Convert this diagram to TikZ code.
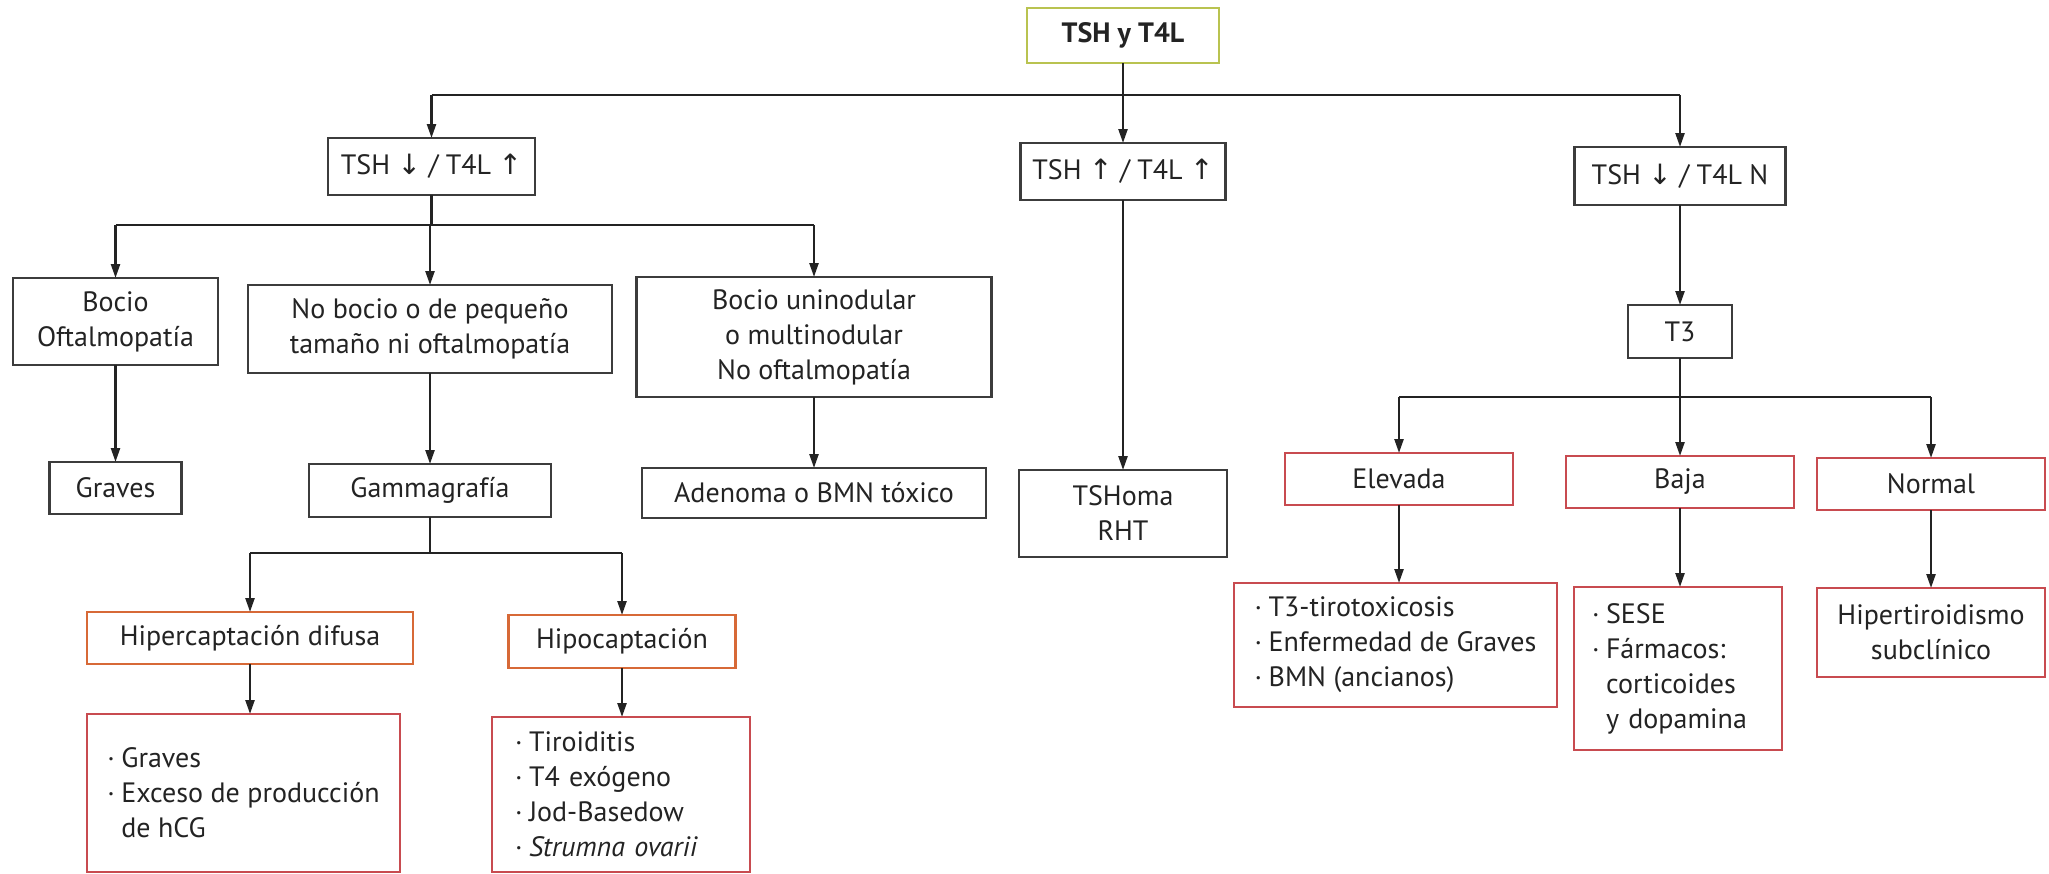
\documentclass[tikz,border=0pt]{standalone}
\usepackage{fontspec}
\setmainfont{PT Sans}
\newfontfamily\arrfont{DejaVu Sans}
\usetikzlibrary{arrows.meta}
\definecolor{txt}{RGB}{35,35,35}
\definecolor{boxgray}{RGB}{60,60,60}
\definecolor{topgreen}{RGB}{185,195,80}
\definecolor{orng}{RGB}{215,105,55}
\definecolor{redb}{RGB}{200,75,80}
\newcommand{\bul}{\makebox[0.5em][l]{·}}
\newcommand{\cont}{\hspace*{0.5em}}
\newcommand{\dn}{{\arrfont\char"2193}}
\newcommand{\up}{{\arrfont\char"2191}}
\tikzset{
  box/.style={draw=boxgray, line width=1.2pt, inner sep=0pt, outer sep=0pt, align=center, text=txt,
     font=\fontsize{14}{17.5}\selectfont},
  obox/.style={box, draw=orng},
  rbox/.style={box, draw=redb},
  lbox/.style={box, align=left},
  conn/.style={line width=1.2pt, draw=txt},
  arr/.style={conn, -{Triangle[length=7pt,width=4.5pt]}}
}
\begin{document}
\begin{tikzpicture}[x=0.5pt,y=-0.5pt]
\useasboundingbox (0,0) rectangle (2049,873);
% level 0
\node[box, draw=topgreen, minimum width=96pt, minimum height=27.5pt, font=\fontsize{14}{17.5}\selectfont\bfseries] (top) at (1123,35.5) {TSH y T4L};
% level 1
\node[box, minimum width=103.5pt, minimum height=28.5pt] (n1) at (431.5,166.5) {TSH \dn\ / T4L \up};
\node[box, minimum width=102.5pt, minimum height=28.5pt] (n2) at (1123,171.5) {TSH \up\ / T4L \up};
\node[box, minimum width=105.5pt, minimum height=29pt] (n3) at (1680,176) {TSH \dn\ / T4L N};
% level 2 left
\node[box, minimum width=102.5pt, minimum height=43.5pt] (b1) at (115.5,321.5) {Bocio\\Oftalmopatía};
\node[box, minimum width=182pt, minimum height=44pt] (b2) at (430,329) {No bocio o de pequeño\\tamaño ni oftalmopatía};
\node[box, minimum width=177.5pt, minimum height=60pt] (b3) at (814,337) {Bocio uninodular\\o multinodular\\No oftalmopatía};
% level 3 left
\node[box, minimum width=66pt, minimum height=26pt] (c1) at (115.5,488) {Graves};
\node[box, minimum width=121pt, minimum height=26.5pt] (c2) at (430,490.5) {Gammagrafía};
\node[box, minimum width=172pt, minimum height=25pt] (c3) at (814,493) {Adenoma o BMN tóxico};
\node[box, minimum width=104pt, minimum height=43.5pt] (c4) at (1123,513.5) {TSHoma\\RHT};
% level 4 left
\node[obox, minimum width=163pt, minimum height=26pt] (d1) at (250,638) {Hipercaptación difusa};
\node[obox, minimum width=113.5pt, minimum height=26.5pt] (d2) at (622,641.5) {Hipocaptación};
\node[lbox, draw=redb, minimum width=156.5pt, minimum height=79pt] (e1) at (243.5,793)
  {\bul Graves\\\bul Exceso de producción\\\cont de hCG};
\node[lbox, draw=redb, text width=106pt, inner xsep=11.5pt, minimum height=77.5pt] (e2) at (621,794.5)
  {\bul Tiroiditis\\\bul T4 exógeno\\\bul Jod-Basedow\\\bul \textit{Strumna ovarii}};
% right side
\node[box, minimum width=52pt, minimum height=26.5pt] (t3) at (1680,331.5) {T3};
\node[rbox, minimum width=114pt, minimum height=26pt] (f1) at (1399,479) {Elevada};
\node[rbox, minimum width=114pt, minimum height=26pt] (f2) at (1680,482) {Baja};
\node[rbox, minimum width=114pt, minimum height=26pt] (f3) at (1931,484) {Normal};
\node[lbox, draw=redb, minimum width=161.5pt, minimum height=62pt] (g1) at (1395.5,645)
  {\bul T3-tirotoxicosis\\\bul Enfermedad de Graves\\\bul BMN (ancianos)};
\node[lbox, draw=redb, text width=86pt, inner xsep=9pt, minimum height=81.5pt] (g2) at (1678,668.5)
  {\bul SESE\\\bul Fármacos:\\\cont corticoides\\\cont y dopamina};
\node[box, draw=redb, minimum width=114pt, minimum height=44.5pt] (g3) at (1931,632.5) {Hipertiroidismo\\subclínico};
% connectors
\coordinate (j0) at (1123,95);
\draw[conn] (top.south) -- (j0);
\draw[conn] (j0 -| n1.north) -- (j0 -| n3.north);
\draw[arr] (j0 -| n1.north) -- (n1.north);
\draw[arr] (j0) -- (n2.north);
\draw[arr] (j0 -| n3.north) -- (n3.north);
\coordinate (j1) at (431.5,225);
\draw[conn] (n1.south) -- (j1);
\draw[conn] (j1 -| b1.north) -- (j1 -| b3.north);
\draw[arr] (j1 -| b1.north) -- (b1.north);
\draw[arr] (j1 -| b2.north) -- (b2.north);
\draw[arr] (j1 -| b3.north) -- (b3.north);
\draw[arr] (b1.south) -- (b1.south |- c1.north);
\draw[arr] (b2.south) -- (b2.south |- c2.north);
\draw[arr] (b3.south) -- (b3.south |- c3.north);
\draw[arr] (n2.south) -- (n2.south |- c4.north);
\coordinate (j2) at (430,553);
\draw[conn] (c2.south) -- (j2);
\draw[conn] (j2 -| d1.north) -- (j2 -| d2.north);
\draw[arr] (j2 -| d1.north) -- (d1.north);
\draw[arr] (j2 -| d2.north) -- (d2.north);
\draw[arr] (d1.south) -- (d1.south |- e1.north);
\draw[arr] (d2.south) -- (d2.south |- e2.north);
\draw[arr] (n3.south) -- (n3.south |- t3.north);
\coordinate (j3) at (1680,397);
\draw[conn] (t3.south) -- (j3);
\draw[conn] (j3 -| f1.north) -- (j3 -| f3.north);
\draw[arr] (j3 -| f1.north) -- (f1.north);
\draw[arr] (j3 -| f2.north) -- (f2.north);
\draw[arr] (j3 -| f3.north) -- (f3.north);
\draw[arr] (f1.south) -- (f1.south |- g1.north);
\draw[arr] (f2.south) -- (f2.south |- g2.north);
\draw[arr] (f3.south) -- (f3.south |- g3.north);
\end{tikzpicture}
\end{document}
